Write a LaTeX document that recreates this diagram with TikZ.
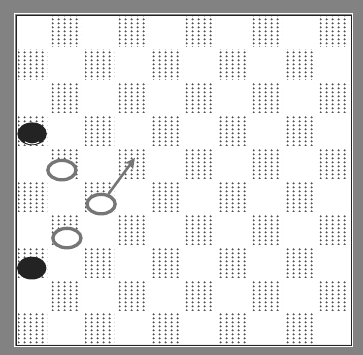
\documentclass[tikz,border=0pt]{standalone}
\usepackage{tikz}
\usetikzlibrary{shapes.geometric, arrows.meta, positioning, calc, patterns.meta}
\definecolor{myframe}{RGB}{130,130,130}
\definecolor{mydots}{RGB}{80,80,80}
\definecolor{mypiece}{RGB}{118,118,118}
\definecolor{mydark}{RGB}{35,35,35}
\tikzdeclarepattern{
  name=halftone,
  type=uncolored,
  bottom left={(0pt,0pt)},
  top right={(4.75pt,3.1pt)},
  tile size={(4.75pt,3.1pt)},
  code={\fill (2.37pt,1.55pt) circle (1.05pt);}
}
\tikzset{
  darksq/.style={pattern={halftone}, pattern color=mydots},
  boardframe/.style={fill=myframe, even odd rule},
  whiteman/.style={ellipse, draw=mypiece, fill=white, line width=2.8pt, minimum width=0.84cm, minimum height=0.58cm, inner sep=0pt},
  blackman/.style={ellipse, fill=mydark, minimum width=0.88cm, minimum height=0.68cm, inner sep=0pt},
  move/.style={-{Stealth[length=9pt, width=9pt]}, line width=2.2pt, color=mypiece}
}
\begin{document}
\begin{tikzpicture}[x=1cm, y=0.985cm]
\useasboundingbox (-0.478,0.455) rectangle (10.358,-10.30);
%--- frame round the board ---
\fill[boardframe] (-0.478,0.455) rectangle (10.358,-10.30) (0,0) rectangle (10,-10);
\draw[white, line width=0.6pt] (-0.05,0.05) rectangle (10.05,-10.05);
\draw[mydark, line width=0.4pt] (0,0) rectangle (10,-10);

%--- dark squares ---
\foreach \r in {0,...,9}{
  \foreach \c in {0,...,9}{
    \pgfmathtruncatemacro{\odd}{mod(\r+\c,2)}
    \ifnum\odd=1 \fill[darksq] (\c+0.06,-\r-0.04) rectangle (\c+0.94,-\r-0.96); \fi
  }
}

%--- black men ---
\node[blackman] (blk1) at (0.48,-3.6)  {};
\node[blackman] (blk2) at (0.47,-7.67) {};
\draw[white, thick] ([xshift=-6pt, yshift=3pt]blk1.south) to[bend right=30] ([xshift=6pt, yshift=3pt]blk1.south);

%--- white men ---
\node[whiteman] (wht1) at (1.37,-4.7)  {};
\node[whiteman] (wht2) at (2.54,-5.73) {};
\node[whiteman] (wht3) at (1.52,-6.76) {};

%--- the move ---
\coordinate (dest) at (3.55,-4.33);
\draw[move] (wht2) -- (dest);
\end{tikzpicture}
\end{document}
